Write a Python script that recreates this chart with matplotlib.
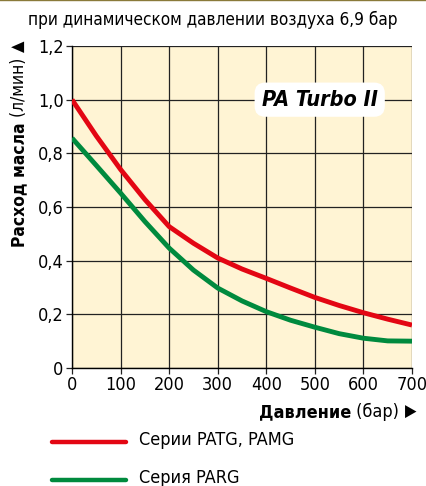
import matplotlib
matplotlib.use("Agg")
import matplotlib.pyplot as plt
import numpy as np

plt.rcParams['font.family'] = ['DejaVu Sans']
plt.rcParams['font.stretch'] = 'condensed'

# pressure (bar)
pressure = [0, 50, 100, 150, 200, 250, 300, 350, 400, 450, 500, 550, 600, 650, 700]
# oil flow, l/min
patg_pamg = [1.0, 0.865, 0.74, 0.628, 0.527, 0.465, 0.41, 0.369, 0.334, 0.298, 0.263, 0.233, 0.206, 0.182, 0.16]
parg = [0.857, 0.755, 0.652, 0.546, 0.447, 0.365, 0.298, 0.25, 0.21, 0.178, 0.152, 0.128, 0.111, 0.101, 0.10]

series_names = ["Серии PATG, PAMG", "Серия PARG"]
x_ticks = [0, 100, 200, 300, 400, 500, 600, 700]
y_ticks = [0, 0.2, 0.4, 0.6, 0.8, 1.0, 1.2]
y_labels = ["0", "0,2", "0,4", "0,6", "0,8", "1,0", "1,2"]

red = "#e30613"
green = "#008a3e"
W, H = 427, 486

fig = plt.figure(figsize=(W / 100, H / 100), dpi=100)
ax = fig.add_axes([72 / W, 1 - 368 / H, 340 / W, 322 / H])
ax.set_facecolor("#fff4d4")

ax.plot(pressure, patg_pamg, color=red, lw=3.5, solid_capstyle="butt", solid_joinstyle="round", zorder=3)
ax.plot(pressure, parg, color=green, lw=3.5, solid_capstyle="butt", solid_joinstyle="round", zorder=3)

ax.set_xlim(0, 700)
ax.set_ylim(0, 1.2)
ax.set_xticks(x_ticks)
ax.set_yticks(y_ticks)
ax.set_yticklabels(y_labels)
ax.grid(True, color="#222222", lw=0.9)
ax.tick_params(labelsize=13, length=4, width=0.9, color="#222222", pad=2)
for s in ["top", "right"]:
    ax.spines[s].set_visible(False)
for s in ["left", "bottom"]:
    ax.spines[s].set_linewidth(1.0)

ax.text(510, 1.0, "PA Turbo II", fontsize=15.5, fontweight="bold", fontstyle="italic",
        ha="center", va="center", zorder=4,
        bbox=dict(boxstyle="round,pad=0.33,rounding_size=0.5", fc="white", ec="none"))

fig.text(213 / W, 1 - 20 / H, "при динамическом давлении воздуха 6,9 бар",
         fontsize=12.3, ha="center", va="center")

# y axis label pieces, stacked upwards
fig.canvas.draw()
r = fig.canvas.get_renderer()
y0 = 1 - 247 / H
for txt, kw, gap in [("Расход масла", dict(fontweight="bold"), 0),
                     (" (л/мин)", dict(), 6),
                     ("▲", dict(fontsize=12), 0)]:
    kw.setdefault("fontsize", 12.5)
    t = fig.text(19 / W, y0, txt, rotation=90, ha="center", va="bottom", **kw)
    bb = t.get_window_extent(r)
    y0 += (bb.height + gap) / H

# x axis label pieces, right aligned
x0 = 416 / W
for txt, kw in [("▶", dict(fontsize=12)),
                (" (бар) ", dict()),
                ("Давление", dict(fontweight="bold"))]:
    kw.setdefault("fontsize", 13)
    t = fig.text(x0, 1 - 412 / H, txt, ha="right", va="center", **kw)
    bb = t.get_window_extent(r)
    x0 -= bb.width / W

# legend
for i, (name, c) in enumerate(zip(series_names, [red, green])):
    yy = 1 - (442 + 38 * i) / H
    fig.add_artist(plt.Line2D([52 / W, 126 / W], [yy, yy], color=c, lw=3.2,
                              solid_capstyle="round", transform=fig.transFigure))
    fig.text(139 / W, yy + 2 / H, name, fontsize=13, ha="left", va="center")

fig.add_artist(plt.Line2D([0, 1], [1 - 0.5 / H, 1 - 0.5 / H], color="#8a7a3a", lw=1,
                          transform=fig.transFigure))

fig.savefig("out.png", dpi=100)
